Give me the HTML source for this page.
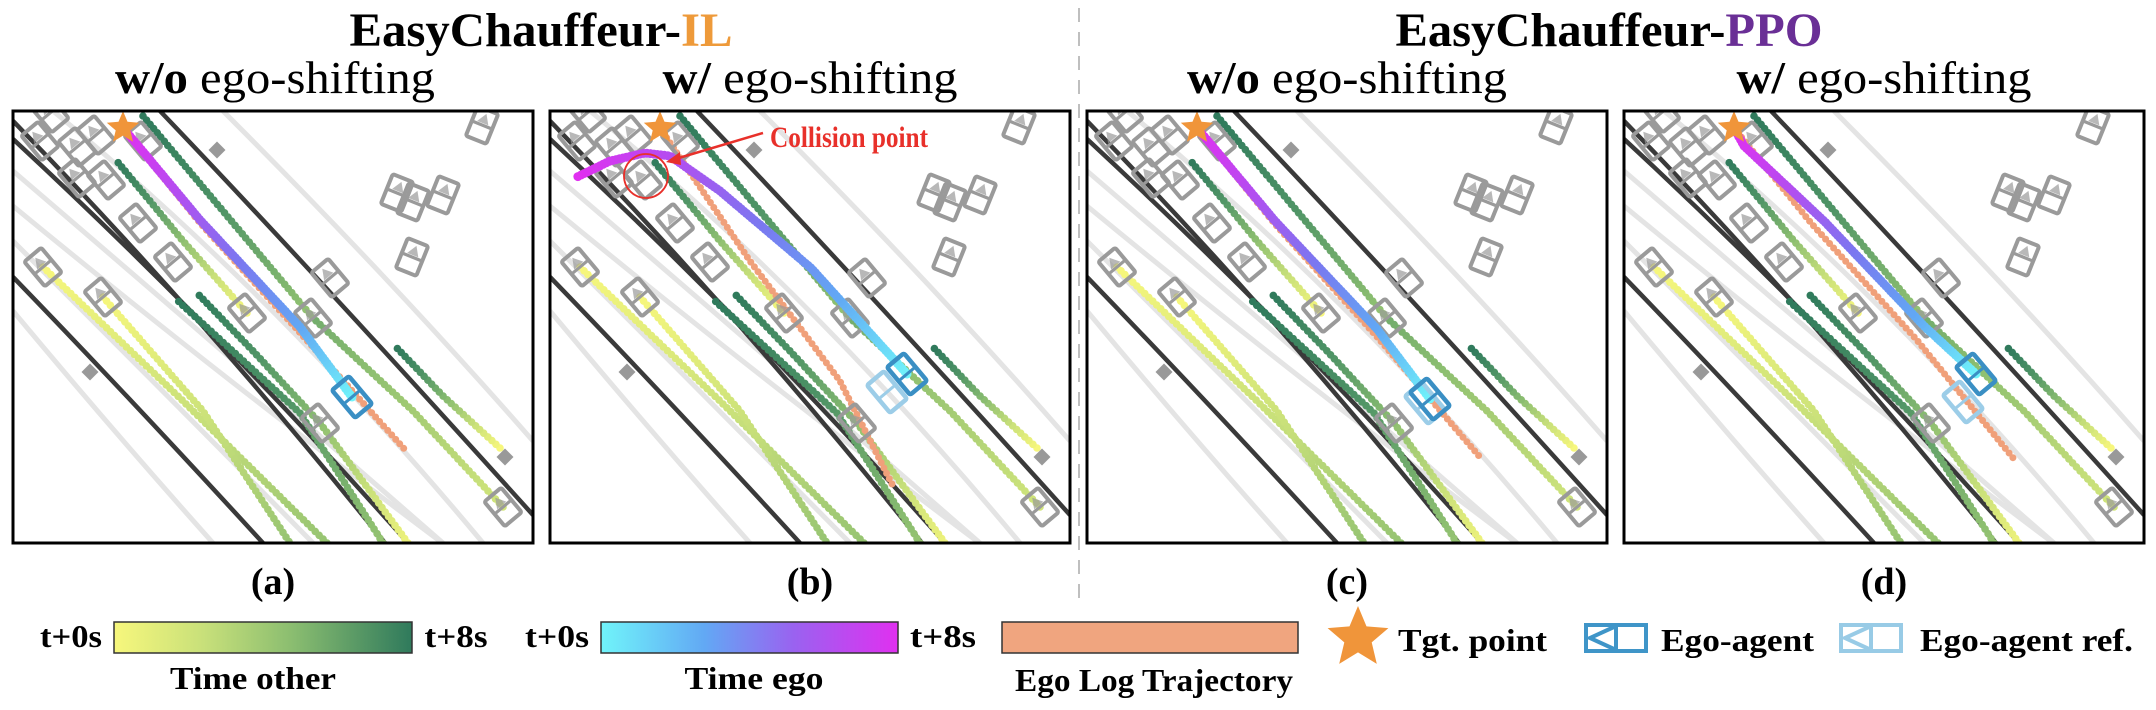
<!DOCTYPE html>
<html><head><meta charset="utf-8"><style>
html,body{margin:0;padding:0;background:#fff;}
svg{display:block;}
text{font-family:"Liberation Serif",serif;font-weight:bold;fill:#000;}
</style></head>
<body>
<svg id="fig" width="2156" height="710" viewBox="0 0 2156 710" xmlns="http://www.w3.org/2000/svg">
<defs>
<linearGradient id="gOther" x1="0" x2="1" y1="0" y2="0"><stop offset="0" stop-color="#f7f77c"/><stop offset="0.3" stop-color="#c8e07a"/><stop offset="0.6" stop-color="#8abd70"/><stop offset="1" stop-color="#2f7a5c"/></linearGradient>
<linearGradient id="gEgo" x1="0" x2="1" y1="0" y2="0"><stop offset="0" stop-color="#70f4fa"/><stop offset="0.35" stop-color="#62a8f4"/><stop offset="0.65" stop-color="#9a62f0"/><stop offset="1" stop-color="#e030f0"/></linearGradient>
<clipPath id="pclip"><rect x="0" y="0" width="520" height="432"/></clipPath>
</defs>
<text x="541" y="46" font-size="48" text-anchor="middle" textLength="383" lengthAdjust="spacingAndGlyphs">EasyChauffeur-<tspan fill="#ee9a3a">IL</tspan></text>
<text x="1609" y="46" font-size="48" text-anchor="middle" textLength="427" lengthAdjust="spacingAndGlyphs">EasyChauffeur-<tspan fill="#6a2f96">PPO</tspan></text>
<text x="275" y="93" font-size="46" text-anchor="middle" textLength="320" lengthAdjust="spacingAndGlyphs">w/o <tspan font-weight="normal">ego-shifting</tspan></text>
<text x="810" y="93" font-size="46" text-anchor="middle" textLength="295" lengthAdjust="spacingAndGlyphs">w/ <tspan font-weight="normal">ego-shifting</tspan></text>
<text x="1347" y="93" font-size="46" text-anchor="middle" textLength="320" lengthAdjust="spacingAndGlyphs">w/o <tspan font-weight="normal">ego-shifting</tspan></text>
<text x="1884" y="93" font-size="46" text-anchor="middle" textLength="295" lengthAdjust="spacingAndGlyphs">w/ <tspan font-weight="normal">ego-shifting</tspan></text>
<line x1="1079" y1="8" x2="1079" y2="600" stroke="#aaa" stroke-width="1.5" stroke-dasharray="14,10"/>
<g id="panels"></g>
<g>
<text x="71" y="647" font-size="32" text-anchor="middle" textLength="62" lengthAdjust="spacingAndGlyphs">t+0s</text>
<rect x="114" y="622" width="298" height="31" fill="url(#gOther)" stroke="#333" stroke-width="1.5"/>
<text x="456" y="647" font-size="32" text-anchor="middle" textLength="63" lengthAdjust="spacingAndGlyphs">t+8s</text>
<text x="253" y="689" font-size="32" text-anchor="middle" textLength="166" lengthAdjust="spacingAndGlyphs">Time other</text>
<text x="557" y="647" font-size="32" text-anchor="middle" textLength="64" lengthAdjust="spacingAndGlyphs">t+0s</text>
<rect x="601" y="622" width="297" height="31" fill="url(#gEgo)" stroke="#333" stroke-width="1.5"/>
<text x="943" y="647" font-size="32" text-anchor="middle" textLength="66" lengthAdjust="spacingAndGlyphs">t+8s</text>
<text x="754" y="689" font-size="32" text-anchor="middle" textLength="139" lengthAdjust="spacingAndGlyphs">Time ego</text>
<rect x="1002" y="622" width="296" height="31" fill="#f0a57f" stroke="#333" stroke-width="1.5"/>
<text x="1154" y="691" font-size="32" text-anchor="middle" textLength="278" lengthAdjust="spacingAndGlyphs">Ego Log Trajectory</text>
<polygon id="legstar" fill="#f0953a"/>
<text x="1398" y="651" font-size="32" textLength="149" lengthAdjust="spacingAndGlyphs">Tgt. point</text>
<g stroke="#3f95c8" stroke-width="4" fill="none"><rect x="1586" y="625" width="60" height="26"/><line x1="1616" y1="625" x2="1616" y2="651"/><polyline points="1614,627 1590,638 1614,649"/></g>
<text x="1661" y="651" font-size="32" textLength="153" lengthAdjust="spacingAndGlyphs">Ego-agent</text>
<g stroke="#98cbe6" stroke-width="4" fill="none"><rect x="1841" y="625" width="60" height="26"/><line x1="1871" y1="625" x2="1871" y2="651"/><polyline points="1869,627 1845,638 1869,649"/></g>
<text x="1920" y="651" font-size="32" textLength="213" lengthAdjust="spacingAndGlyphs">Ego-agent ref.</text>
</g>
</svg>
<script>
// ---- data (panel-local coordinates) ----
const panelX = [13, 550, 1087, 1624];
const panelLabels = ["(a)", "(b)", "(c)", "(d)"];
const roadLines = ["M147,0 Q300,160 520,404", "M0,10 Q190,205 372,432", "M0,28 Q205,218 395,432", "M0,166 Q120,290 250,432"];
const laneLines = ["M0,60 Q210,240 430,432", "M0,95 Q200,260 440,440", "M0,130 Q150,280 300,432", "M0,200 Q100,320 200,432", "M40,0 Q260,180 470,432", "M210,0 Q380,170 520,330"];
const otherTrajs = [
  [[234,202],[170,130],[103,49]],
  [[300,207],[210,100],[130,5]],
  [[490,396],[400,300],[300,207]],
  [[487,337],[430,285],[384,237]],
  [[395,432],[307,312],[240,240],[184,182]],
  [[370,432],[287,302],[164,189]],
  [[30,156],[170,290],[314,432]],
  [[90,186],[190,300],[277,432]]
];
const otherC0 = [0.0, 0.45, 0.2, 0.0, 0.05, 0.45, 0.0, 0.0];
const otherC1 = [1.0, 1.0, 0.6, 1.0, 1.0, 1.0, 0.45, 0.45];
const vehicles = [[37,2],[27,30],[64,36],[83,24],[64,67],[93,69],[125,112],[160,151],[30,156],[90,186],[234,202],[300,207],[307,312],[130,30],[490,396],[317,167]];
const vehiclesUp = [[469,14],[384,82],[400,91],[430,84],[399,146]];
const smallSquares = [[77,261],[204,39],[492,346]];
const egoTrajs = [
  [[339,286],[287,216],[187,109],[127,37],[110,17]],
  [[357,263],[261,157],[170,80],[120,45],[95,42],[60,50],[27,66]],
  [[343,288],[290,218],[188,110],[127,37],[110,17]],
  [[352,263],[300,215],[200,110],[120,35],[110,17]]
];
const logTrajs = [
  [[110,17],[187,112],[290,225],[394,341]],
  [[110,17],[200,150],[290,270],[344,377]],
  [[110,17],[187,112],[292,228],[392,345]],
  [[110,17],[187,112],[292,228],[390,348]]
];
const egoBox = [[339,286],[357,263],[343,288],[352,263]];
const refBox = [null,[337,281],[338,292],[339,291]];
const star = [110,17];

const NS = "http://www.w3.org/2000/svg";
function mk(tag, attrs, parent){const e=document.createElementNS(NS,tag);for(const k in attrs)e.setAttribute(k,attrs[k]);parent.appendChild(e);return e;}
function lerpHex(a,b,t){const pa=[1,3,5].map(i=>parseInt(a.substr(i,2),16)),pb=[1,3,5].map(i=>parseInt(b.substr(i,2),16));return "rgb("+pa.map((v,i)=>Math.round(v+(pb[i]-v)*t)).join(",")+")";}
function cmap(stops,t){t=Math.max(0,Math.min(1,t));const n=stops.length-1;const i=Math.min(n-1,Math.floor(t*n));return lerpHex(stops[i],stops[i+1],t*n-i);}
const otherStops=["#f7f77c","#c8e07a","#8abd70","#4f9466","#2f7a5c"];
const egoStops=["#70f4fa","#62a8f4","#7a78f0","#b050f0","#e030f0"];
function dots(g,pts,step,r,colorFn){
  const seg=[];let L=0;for(let i=1;i<pts.length;i++){const d=Math.hypot(pts[i][0]-pts[i-1][0],pts[i][1]-pts[i-1][1]);seg.push(d);L+=d;}
  for(let s=0;s<=L;s+=step){let acc=0,i=0;while(i<seg.length-1&&acc+seg[i]<s){acc+=seg[i];i++;}
    const t=seg[i]?(s-acc)/seg[i]:0;const x=pts[i][0]+(pts[i+1][0]-pts[i][0])*t,y=pts[i][1]+(pts[i+1][1]-pts[i][1])*t;
    const c=mk("circle",{cx:x.toFixed(1),cy:y.toFixed(1),r:r,fill:colorFn(s/L)},g);
    
    }
}
function starPts(cx,cy,R){const p=[];for(let i=0;i<10;i++){const a=-Math.PI/2+i*Math.PI/5;const rr=i%2?R*0.45:R;p.push((cx+rr*Math.cos(a)).toFixed(1)+","+(cy+rr*Math.sin(a)).toFixed(1));}return p.join(" ");}
function vehicle(g,x,y,rot,col,sw){
  const v=mk("g",{transform:`translate(${x},${y}) rotate(${rot})`},g);
  
  
  mk("rect",{x:-11,y:-16,width:22,height:32,rx:2,fill:"none",stroke:col,"stroke-width":sw},v);
  mk("line",{x1:-11,y1:0,x2:11,y2:0,stroke:col,"stroke-width":sw*0.8},v);
  mk("polygon",{points:"0,-12 -6,-2 6,-2",fill:col,opacity:0.7},v);
  return v;
}
function egoIcon(g,x,y,col){
  const v=mk("g",{transform:`translate(${x},${y}) rotate(-40)`},g);
  mk("rect",{x:-11,y:-18,width:22,height:36,rx:2,fill:"none",stroke:col,"stroke-width":4.5},v);
  mk("line",{x1:-11,y1:0,x2:11,y2:0,stroke:col,"stroke-width":3},v);
  return v;
}
const root=document.getElementById("panels");
panelX.forEach((px,pi)=>{
  const pg=mk("g",{transform:`translate(${px},111)`},root);
  
  
  const inner=mk("g",{"clip-path":"url(#pclip)"},pg);
  laneLines.forEach(d=>{const l=mk("path",{d:d,fill:"none",stroke:"#e4e4e4","stroke-width":5},inner);
    
    });
  roadLines.forEach(d=>{const l=mk("path",{d:d,fill:"none",stroke:"#3a3a3a","stroke-width":4.5},inner);
    
    });
  otherTrajs.forEach((t,i)=>dots(inner,t,5.5,3.8,f=>cmap(otherStops,otherC0[i]+(otherC1[i]-otherC0[i])*f)));
  dots(inner,logTrajs[pi],6,3.5,f=>"#f0a07a");
  vehicles.forEach(v=>vehicle(inner,v[0],v[1],-40,"#9a9a9a",4));
  vehiclesUp.forEach(v=>vehicle(inner,v[0],v[1],22,"#9a9a9a",4));
  smallSquares.forEach(s=>{const q=mk("rect",{x:s[0]-6,y:s[1]-6,width:12,height:12,fill:"#999",transform:`rotate(45 ${s[0]} ${s[1]})`},inner);
    
    });
  dots(inner,egoTrajs[pi],3.5,4.5,f=>cmap(egoStops,f));
  if(refBox[pi]){const r=egoIcon(inner,refBox[pi][0],refBox[pi][1],"#9ccde8");
    
    }
  const eb=egoIcon(inner,egoBox[pi][0],egoBox[pi][1],"#3a8fc4");
  
  
  const st=mk("polygon",{points:starPts(star[0],star[1],17),fill:"#f0953a"},inner);
  
  
  if(pi===1){
    const c=mk("circle",{cx:96,cy:65,r:22,fill:"none",stroke:"#e8302a","stroke-width":1.8},inner);
    
    
    const a=mk("path",{d:"M213,22 L122,49",stroke:"#e8302a","stroke-width":2.5,fill:"none"},inner);
    
    
    const h=mk("polygon",{points:"116,51 130,41 131,54",fill:"#e8302a"},inner);
    
    
    const t=mk("text",{x:220,y:36,"font-size":30,fill:"#e8302a",textLength:158,lengthAdjust:"spacingAndGlyphs"},inner);
    
    
    t.textContent="Collision point";
    t.style.fill="#e8302a";
  }
  const fr=mk("rect",{x:0,y:0,width:520,height:432,fill:"none",stroke:"#000","stroke-width":3},pg);
  
  
  const lb=mk("text",{x:260,y:483,"font-size":38,"text-anchor":"middle"},pg);
  
  
  lb.textContent=panelLabels[pi];
});
document.getElementById("legstar").setAttribute("points",starPts(1358,638,32));
</script>
</body></html>
